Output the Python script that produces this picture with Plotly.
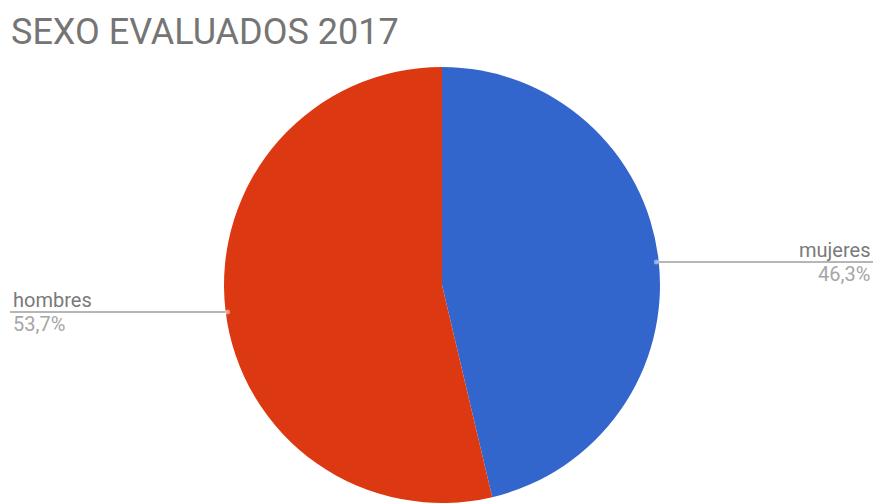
import math
import plotly.graph_objects as go

# Pie data: share of assessed people by sex
labels = ["mujeres", "hombres"]
values = [46.3, 53.7]
colors = ["#3366CC", "#DC3912"]

W, H = 876, 503
CX, CY, R = 442, 285, 218  # pie centre and radius in pixels (from top-left)

fig = go.Figure(
    go.Pie(
        labels=labels,
        values=values,
        marker=dict(colors=colors, line=dict(width=0)),
        sort=False,
        direction="clockwise",
        rotation=0,
        textinfo="none",
        hoverinfo="label+percent",
        showlegend=False,
        domain=dict(x=[(CX - R) / W, (CX + R) / W], y=[1 - (CY + R) / H, 1 - (CY - R) / H]),
    )
)

def px(x):
    return x / W

def py(y):
    return 1 - y / H

shapes = []
annotations = []
total = sum(values)
cum = 0.0
for lab, val in zip(labels, values):
    mid = (cum + val / 2) / total * 2 * math.pi
    cum += val
    dx = CX + 0.99 * R * math.sin(mid)
    dy = CY - 0.99 * R * math.cos(mid) + 2
    right = math.sin(mid) > 0
    x_end = 873 if right else 10
    pct = f"{val / total * 100:.1f}%".replace(".", ",")
    shapes.append(dict(type="line", xref="paper", yref="paper",
                       x0=px(dx), y0=py(dy), x1=px(x_end), y1=py(dy),
                       line=dict(color="#9E9E9E", width=1.5)))
    shapes.append(dict(type="circle", xref="paper", yref="paper",
                       x0=px(dx - 2.5), y0=py(dy - 2.5), x1=px(dx + 2.5), y1=py(dy + 2.5),
                       fillcolor="rgba(255,255,255,0.45)", line=dict(width=0)))
    anchor = "right" if right else "left"
    tx = px(x_end - 1) if right else px(x_end + 1)
    annotations.append(dict(text=lab, xref="paper", yref="paper", x=tx, y=py(dy + 2),
                            xanchor=anchor, yanchor="bottom", showarrow=False,
                            font=dict(family="Roboto", size=20, color="#7A7A7A")))
    annotations.append(dict(text=pct, xref="paper", yref="paper", x=tx, y=py(dy - 2),
                            xanchor=anchor, yanchor="top", showarrow=False,
                            font=dict(family="Roboto", size=20, color="#A6A6A6")))

annotations.append(dict(text="SEXO EVALUADOS 2017", xref="paper", yref="paper",
                        x=px(9), y=py(32), xanchor="left", yanchor="middle",
                        showarrow=False,
                        font=dict(family="Roboto", size=36, color="#757575")))

fig.update_layout(
    width=W, height=H,
    margin=dict(l=0, r=0, t=0, b=0),
    paper_bgcolor="white",
    plot_bgcolor="white",
    shapes=shapes,
    annotations=annotations,
)

fig.write_html("out.html")
